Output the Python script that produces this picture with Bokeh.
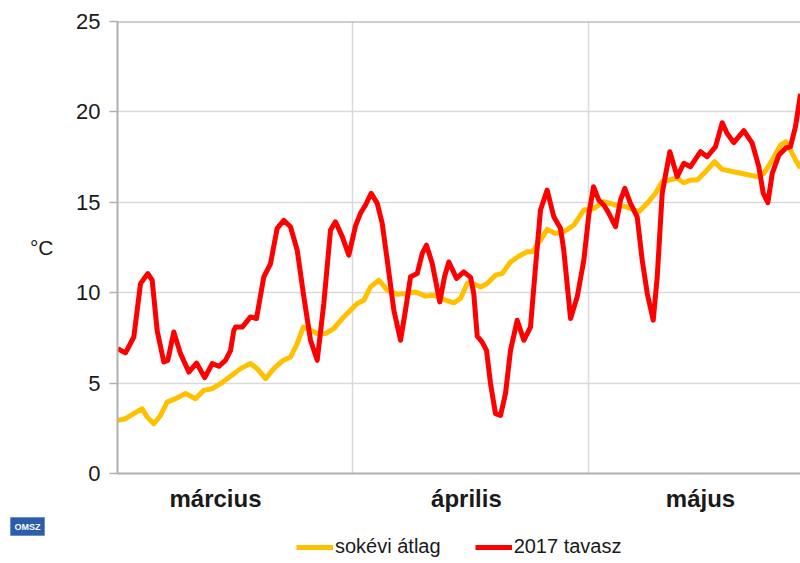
from bokeh.plotting import figure
from bokeh.layouts import column
from bokeh.models import (Range1d, FixedTicker, Legend, LegendItem, Span, Title, LinearAxis)
from bokeh.embed import file_html
from bokeh.resources import INLINE

# ---- data (day number: 1 = 1 March; temperatures in °C) ----
avg_day = [1.18, 2.16, 3.22, 4.28, 4.92, 5.76, 6.61, 7.46, 8.52, 9.79, 11.06, 12.11, 13.18, 14.24,
           15.89, 16.78, 18.05, 18.9, 19.96, 21.01, 22.08, 23.13, 23.99, 24.75, 25.68, 26.73, 27.58,
           28.64, 29.91, 30.76, 31.61, 32.45, 33.3, 34.36, 35.43, 36.7, 37.75, 39.02, 40.3, 41.35,
           42.62, 43.89, 44.74, 45.6, 46.02, 47.3, 48.14, 49.19, 50.04, 51.1, 52.15, 53.22, 53.86,
           54.91, 55.76, 56.82, 57.87, 59.15, 60.42, 61.69, 62.96, 64.45, 65.72, 67.41, 68.48, 69.53,
           70.38, 71.22, 72.29, 73.13, 73.98, 74.83, 75.89, 77.03, 78.01, 79.48, 80.97, 82.46, 83.3,
           84.37, 85.43, 86.06, 86.69, 87.33, 87.96]
avg_temp = [2.94, 3.03, 3.31, 3.58, 3.12, 2.75, 3.21, 3.95, 4.14, 4.42, 4.14, 4.6, 4.69, 4.97,
            5.5, 5.8, 6.08, 5.8, 5.25, 5.8, 6.22, 6.44, 7.18, 8.1, 7.92, 7.7, 7.74,
            8.02, 8.66, 9.03, 9.4, 9.58, 10.32, 10.69, 10.14, 9.92, 9.96, 10.04, 9.81, 9.86,
            9.62, 9.44, 9.68, 10.51, 10.55, 10.32, 10.51, 10.97, 11.06, 11.7, 12.02, 12.26, 12.26,
            12.9, 13.5, 13.28, 13.37, 13.74, 14.57, 14.66, 15.03, 14.85, 14.76, 14.48, 14.94, 15.5,
            16.14, 16.23, 16.33, 16.08, 16.23, 16.23, 16.69, 17.25, 16.82, 16.69, 16.55, 16.42, 16.6,
            17.34, 18.17, 18.35, 17.9, 17.34, 16.88]

y2017_day = [1.18, 2.16, 3.22, 4.07, 5.0, 5.55, 6.19, 7.03, 7.54, 8.3, 9.15, 10.21, 11.19, 12.24,
             13.18, 14.02, 14.87, 15.51, 15.93, 16.15, 17.0, 18.05, 18.81, 19.74, 20.59, 21.44, 22.28,
             23.13, 23.99, 24.83, 25.68, 26.53, 27.37, 28.22, 28.85, 29.71, 30.55, 31.4, 32.03, 32.67,
             33.39, 34.16, 34.79, 35.43, 36.27, 37.12, 37.75, 38.39, 39.24, 39.88, 40.42, 41.15, 42.11,
             42.71, 43.26, 44.24, 45.16, 46.02, 46.43, 46.87, 47.5, 48.05, 48.56, 49.19, 49.83, 50.46,
             51.1, 51.95, 52.79, 53.64, 54.28, 54.91, 55.76, 56.6, 57.45, 57.87, 58.73, 59.58, 60.42,
             61.05, 61.65, 62.32, 62.96, 63.6, 64.45, 65.08, 65.63, 66.35, 67.2, 67.84, 68.48, 69.24,
             69.75, 70.38, 71.35, 72.29, 73.13, 73.98, 75.25, 76.1, 77.16, 78.01, 78.64, 79.48, 80.76,
             81.82, 82.66, 83.22, 83.81, 84.37, 85.2, 86.06, 86.69, 87.33, 87.96]
y2017_temp = [6.9, 6.67, 7.55, 10.5, 11.06, 10.7, 7.9, 6.17, 6.26, 7.83, 6.63, 5.61, 6.11, 5.3,
              6.08, 5.93, 6.26, 6.8, 7.92, 8.1, 8.1, 8.66, 8.57, 10.87, 11.6, 13.56, 14.0,
              13.65, 12.35, 9.77, 7.37, 6.26, 9.4, 13.46, 13.92, 13.1, 12.08, 13.7, 14.39, 14.85,
              15.5, 14.94, 13.83, 11.8, 9.03, 7.37, 9.03, 10.88, 11.06, 12.17, 12.63, 11.62, 9.49,
              10.88, 11.7, 10.79, 11.15, 10.85, 9.96, 7.6, 7.27, 6.81, 4.97, 3.31, 3.21, 4.42,
              6.81, 8.48, 7.37, 8.1, 11.43, 14.57, 15.68, 14.2, 13.56, 12.35, 8.57, 9.77, 11.8,
              14.3, 15.86, 15.12, 14.85, 14.39, 13.65, 15.12, 15.77, 14.94, 14.2, 11.8, 9.96, 8.48,
              10.88, 15.5, 17.8, 16.42, 17.16, 16.97, 17.8, 17.52, 18.08, 19.4, 18.8, 18.3, 18.96,
              18.27, 16.97, 15.5, 14.98, 16.6, 17.6, 17.99, 18.08, 19.2, 21.0]

series_names = ["sokévi átlag", "2017 tavasz"]
series_colors = ["#FFC000", "#FF0000"]
month_names = ["március", "április", "május"]
month_label_pos = [13.6, 45.5, 75.25]
month_starts = [31, 61]
y_ticks = [0, 5, 10, 15, 20, 25]
unit_label = "°C"
unit_label_pos = 12.5

FONT = "Liberation Sans"
TXT = "#1a1a1a"

p = figure(width=800, height=515, output_backend="svg", toolbar_location=None,
           x_range=Range1d(1.144, 87.96), y_range=Range1d(0, 25),
           min_border_left=117, min_border_right=0, min_border_top=21, min_border_bottom=42)
p.outline_line_color = None
p.background_fill_color = "white"
p.border_fill_color = "white"

# y axis
ya = p.yaxis[0]
ya.ticker = FixedTicker(ticks=y_ticks)
ya.axis_line_color = "#B0B0B0"
ya.axis_line_width = 2
ya.major_tick_line_color = "#B0B0B0"
ya.major_tick_line_width = 1.5
ya.major_tick_out = 8
ya.major_tick_in = 0
ya.minor_tick_line_color = None
ya.major_label_standoff = 9
ya.major_label_text_font = FONT
ya.major_label_text_font_size = "22px"
ya.major_label_text_color = TXT

# unit label as a second (bare) left axis
ua = LinearAxis(ticker=FixedTicker(ticks=[unit_label_pos]),
                major_label_overrides={unit_label_pos: unit_label},
                axis_line_color=None, major_tick_line_color=None, minor_tick_line_color=None,
                major_tick_out=0, major_tick_in=0, major_label_standoff=20,
                major_label_text_font=FONT, major_label_text_font_size="21px",
                major_label_text_color=TXT)
p.add_layout(ua, "left")

# x axis
xa = p.xaxis[0]
xa.ticker = FixedTicker(ticks=month_label_pos)
xa.major_label_overrides = {t: n for t, n in zip(month_label_pos, month_names)}
xa.axis_line_color = "#B0B0B0"
xa.axis_line_width = 2
xa.major_tick_line_color = None
xa.minor_tick_line_color = None
xa.major_tick_out = 0
xa.major_tick_in = 0
xa.major_label_standoff = 11
xa.major_label_text_font = FONT
xa.major_label_text_font_size = "24px"
xa.major_label_text_font_style = "bold"
xa.major_label_text_color = TXT

# grids
p.ygrid.grid_line_color = "#D9D9D9"
p.ygrid.grid_line_width = 1.5
p.xgrid.ticker = FixedTicker(ticks=month_starts)
p.xgrid.grid_line_color = "#D9D9D9"
p.xgrid.grid_line_width = 1.5

# top border
p.add_layout(Span(location=25, dimension="width", line_color="#A0A0A0", line_width=2))

p.line(avg_day, avg_temp, line_color=series_colors[0], line_width=5, line_join="round")
p.line(y2017_day, y2017_temp, line_color=series_colors[1], line_width=5, line_join="round")

# ---- legend strip below the chart (its series lie outside its own ranges) ----
q = figure(width=800, height=48, output_backend="svg", toolbar_location=None,
           x_range=Range1d(0, 1), y_range=Range1d(0, 1),
           min_border_left=0, min_border_right=0, min_border_top=0, min_border_bottom=0)
q.axis.visible = False
q.grid.grid_line_color = None
q.outline_line_color = None
q.background_fill_color = "white"
q.border_fill_color = "white"
lr = [q.line(avg_day, avg_temp, line_color=series_colors[0], line_width=5),
      q.line(y2017_day, y2017_temp, line_color=series_colors[1], line_width=5)]
legend = Legend(items=[LegendItem(label=n, renderers=[r]) for n, r in zip(series_names, lr)],
                orientation="horizontal", location=(179, 5),
                border_line_color=None, background_fill_alpha=0,
                label_text_font=FONT, label_text_font_size="20px", label_text_color=TXT,
                glyph_width=37, glyph_height=18, label_standoff=2, spacing=34,
                padding=0, margin=0)
q.add_layout(legend, "center")

# OMSZ logo approximation
logo = Title(text="OMSZ", align="left", offset=-107, standoff=0,
             text_font=FONT, text_font_size="9px", text_font_style="bold",
             text_color="white", background_fill_color="#2B5DA8",
             border_line_color="#6A8FCB", padding=4)
q.add_layout(logo, "above")

open("out.html", "w").write(file_html(column(p, q, spacing=0), INLINE))
